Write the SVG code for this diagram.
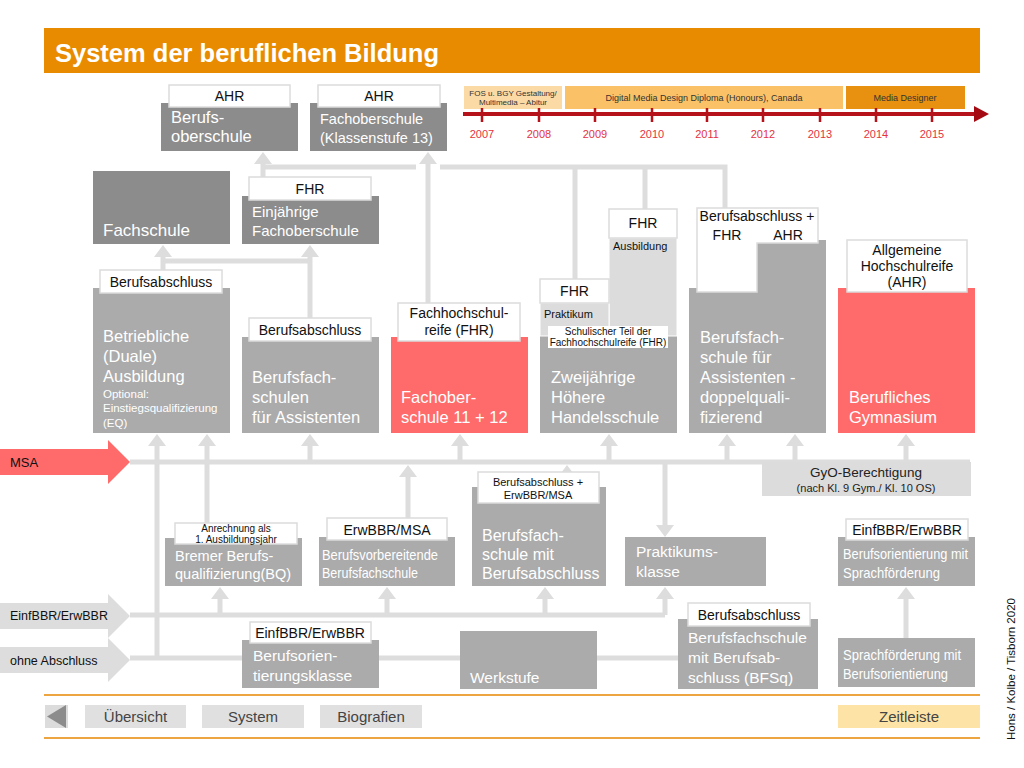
<svg xmlns="http://www.w3.org/2000/svg" width="1024" height="768" viewBox="0 0 1024 768">
<style>
text{font-family:"Liberation Sans",Arial,Helvetica,sans-serif}
.dk{fill:#8c8c8c}
.md{fill:#ababab}
.rd{fill:#ff6b6b}
.lt{fill:#dcdcdc}
.lbl{fill:#fff;stroke:#dcdcdc;stroke-width:1.5}
.w{fill:#fff}
.b{fill:#111}
.m{font-size:16.5px}
.s{font-size:14.5px}
.l{font-size:14px;text-anchor:middle}
.c{stroke:#dddddd;stroke-width:5;fill:none}
.ah{fill:#dddddd}
.yr{font-size:11px;fill:#e5323e;text-anchor:middle}
.tk{stroke:#b5121b;stroke-width:2.5}
.btn{fill:#e0e0e0}
.bt{font-size:15px;fill:#444;text-anchor:middle}
</style>

<!-- Header -->
<g id="header">
<rect x="44" y="28" width="936" height="45" fill="#e98b00"/>
<text x="55" y="62" font-size="25.5" font-weight="bold" fill="#fff">System der beruflichen Bildung</text>
</g>

<!-- Timeline -->
<g id="timeline">
<rect x="464" y="86" width="98" height="23" fill="#fcdaa5"/>
<text x="513" y="96" font-size="8" fill="#333" text-anchor="middle">FOS u. BGY Gestaltung/</text>
<text x="513" y="105" font-size="8" fill="#333" text-anchor="middle">Multimedia – Abitur</text>
<rect x="565" y="86" width="278" height="23" fill="#fbc166"/>
<text x="704" y="101" font-size="9" fill="#333" text-anchor="middle">Digital Media Design Diploma (Honours), Canada</text>
<rect x="846" y="86" width="119" height="23" fill="#e8900f"/>
<text x="905" y="101" font-size="9" fill="#333" text-anchor="middle">Media Designer</text>
<line x1="463" y1="114" x2="976" y2="114" stroke="#b5121b" stroke-width="4"/>
<polygon points="974,106 989,114 974,122" fill="#a50a12"/>
<line class="tk" x1="482" y1="108" x2="482" y2="122"/>
<line class="tk" x1="539" y1="108" x2="539" y2="122"/>
<line class="tk" x1="595" y1="108" x2="595" y2="122"/>
<line class="tk" x1="652" y1="108" x2="652" y2="122"/>
<line class="tk" x1="707" y1="108" x2="707" y2="122"/>
<line class="tk" x1="763" y1="108" x2="763" y2="122"/>
<line class="tk" x1="820" y1="108" x2="820" y2="122"/>
<line class="tk" x1="876" y1="108" x2="876" y2="122"/>
<line class="tk" x1="932" y1="108" x2="932" y2="122"/>
<text class="yr" x="482" y="138">2007</text>
<text class="yr" x="539" y="138">2008</text>
<text class="yr" x="595" y="138">2009</text>
<text class="yr" x="652" y="138">2010</text>
<text class="yr" x="707" y="138">2011</text>
<text class="yr" x="763" y="138">2012</text>
<text class="yr" x="820" y="138">2013</text>
<text class="yr" x="876" y="138">2014</text>
<text class="yr" x="932" y="138">2015</text>
</g>

<!-- Connectors -->
<g id="connectors">
<path class="c" d="M263,178V163 M263,167H416 M440,167H725V208 M575,167V279 M645,167V209 M428,303V163"/>
<path class="c" d="M163,270V257 M163,261H310 M310,318V257"/>
<path class="c" d="M130,462H970 M157,658V445 M207,523V445 M310,462V445 M460,462V445 M609,462V445 M727,462V445 M795,462V445 M906,462V445 M408,518V476 M665,462V526"/>
<path class="c" d="M130,615H665 M220,615V598 M387,615V598 M545,615V598 M665,615V598"/>
<path class="c" d="M130,658H678 M906,638V598"/>
<g class="ah">
<polygon points="254,164 272,164 263,152"/>
<polygon points="419,164 437,164 428,152"/>
<polygon points="154,257 172,257 163,245"/>
<polygon points="301,257 319,257 310,245"/>
<polygon points="148,446 166,446 157,434"/>
<polygon points="198,446 216,446 207,434"/>
<polygon points="301,446 319,446 310,434"/>
<polygon points="451,446 469,446 460,434"/>
<polygon points="600,446 618,446 609,434"/>
<polygon points="718,446 736,446 727,434"/>
<polygon points="786,446 804,446 795,434"/>
<polygon points="897,446 915,446 906,434"/>
<polygon points="399,477 417,477 408,465"/>
<polygon points="558,477 576,477 567,465"/>
<polygon points="656,525 674,525 665,537"/>
<polygon points="211,599 229,599 220,587"/>
<polygon points="378,599 396,599 387,587"/>
<polygon points="536,599 554,599 545,587"/>
<polygon points="656,599 674,599 665,587"/>
<polygon points="897,599 915,599 906,587"/>
</g>
</g>

<!-- Top row -->
<g id="berufsoberschule">
<rect class="dk" x="161" y="103" width="137" height="48"/>
<rect class="lbl" x="169" y="85" width="121" height="22"/>
<text class="l b" x="229.5" y="101">AHR</text>
<text class="w m" x="171" y="123">Berufs-</text>
<text class="w m" x="171" y="142">oberschule</text>
</g>
<g id="fachoberschule13">
<rect class="dk" x="310" y="103" width="137" height="48"/>
<rect class="lbl" x="318" y="85" width="122" height="22"/>
<text class="l b" x="379" y="101">AHR</text>
<text class="w s" x="320" y="124">Fachoberschule</text>
<text class="w s" x="320" y="143">(Klassenstufe 13)</text>
</g>

<!-- Row 2 -->
<g id="fachschule">
<rect class="dk" x="93" y="171" width="137" height="73"/>
<text class="w" x="103" y="236" font-size="17">Fachschule</text>
</g>
<g id="einjaehrige-fos">
<rect class="dk" x="242" y="196" width="137" height="48"/>
<rect class="lbl" x="249" y="177" width="122" height="23"/>
<text class="l b" x="310" y="194">FHR</text>
<text class="w" x="252" y="217" font-size="15">Einjährige</text>
<text class="w" x="252" y="236" font-size="15">Fachoberschule</text>
</g>

<!-- Row 3 -->
<g id="betriebliche-ausbildung">
<rect class="md" x="93" y="288" width="137" height="145"/>
<rect class="lbl" x="100" y="270" width="122" height="23"/>
<text class="l b" x="161" y="287">Berufsabschluss</text>
<text class="w m" x="103" y="342">Betriebliche</text>
<text class="w m" x="103" y="362">(Duale)</text>
<text class="w m" x="103" y="382">Ausbildung</text>
<text class="w" x="103" y="398" font-size="11.5">Optional:</text>
<text class="w" x="103" y="412" font-size="11.5">Einstiegsqualifizierung</text>
<text class="w" x="103" y="427" font-size="11.5">(EQ)</text>
</g>
<g id="bfs-assistenten">
<rect class="md" x="242" y="337" width="137" height="96"/>
<rect class="lbl" x="249" y="318" width="122" height="23"/>
<text class="l b" x="310" y="335">Berufsabschluss</text>
<text class="w m" x="252" y="383">Berufsfach-</text>
<text class="w m" x="252" y="403">schulen</text>
<text class="w m" x="252" y="423">für Assistenten</text>
</g>
<g id="fos-11-12">
<rect class="rd" x="391" y="337" width="137" height="96"/>
<rect class="lbl" x="398" y="303" width="122" height="38"/>
<text class="l b" x="459" y="318">Fachhochschul-</text>
<text class="l b" x="459" y="335">reife (FHR)</text>
<text class="w m" x="401" y="403">Fachober-</text>
<text class="w m" x="401" y="423">schule 11 + 12</text>
</g>
<g id="hoehere-handelsschule">
<rect class="md" x="540" y="336" width="137" height="97"/>
<rect class="lt" x="609" y="238" width="68" height="98" stroke="#fff" stroke-width="1"/>
<rect class="lbl" x="609" y="209" width="68" height="29"/>
<text class="l b" x="643" y="228">FHR</text>
<text class="b" x="613" y="250" font-size="11">Ausbildung</text>
<rect class="lt" x="540" y="303" width="69" height="33" stroke="#fff" stroke-width="1"/>
<rect class="lbl" x="540" y="279" width="69" height="24"/>
<text class="l b" x="574.5" y="296">FHR</text>
<text class="b" x="544" y="318" font-size="11">Praktikum</text>
<rect x="548" y="326" width="120" height="22" fill="#fff"/>
<text class="b" x="608" y="335" font-size="10" text-anchor="middle">Schulischer Teil der</text>
<text class="b" x="608" y="346" font-size="10" text-anchor="middle">Fachhochschulreife (FHR)</text>
<text class="w m" x="551" y="383">Zweijährige</text>
<text class="w m" x="551" y="403">Höhere</text>
<text class="w m" x="551" y="423">Handelsschule</text>
</g>
<g id="bfs-doppelqualifizierend">
<rect class="md" x="689" y="288" width="137" height="145"/>
<rect class="md" x="757" y="240" width="69" height="50"/>
<path class="lbl" d="M697,208H818V243H757V292H697Z"/>
<text class="l b" x="757" y="221" font-size="13">Berufsabschluss +</text>
<text class="l b" x="727" y="240">FHR</text>
<text class="l b" x="788" y="240">AHR</text>
<text class="w m" x="700" y="343">Berufsfach-</text>
<text class="w m" x="700" y="363">schule für</text>
<text class="w m" x="700" y="383">Assistenten -</text>
<text class="w m" x="700" y="403">doppelquali-</text>
<text class="w m" x="700" y="423">fizierend</text>
</g>
<g id="berufliches-gymnasium">
<rect class="rd" x="838" y="288" width="137" height="145"/>
<rect class="lbl" x="847" y="240" width="120" height="52"/>
<text class="l b" x="907" y="255">Allgemeine</text>
<text class="l b" x="907" y="271">Hochschulreife</text>
<text class="l b" x="907" y="287">(AHR)</text>
<text class="w m" x="849" y="403">Berufliches</text>
<text class="w m" x="849" y="423">Gymnasium</text>
</g>

<!-- Entry arrows -->
<g id="msa">
<polygon points="0,449 108,449 108,440 130,462 108,484 108,475 0,475" fill="#ff6b6b"/>
<text x="10" y="467" font-size="13" fill="#111">MSA</text>
</g>
<g id="einfbbr-erwbbr">
<polygon points="0,603 108,603 108,594 130,616 108,638 108,629 0,629" fill="#dddddd"/>
<text x="10" y="620" font-size="12.5" fill="#111">EinfBBR/ErwBBR</text>
</g>
<g id="ohne-abschluss">
<polygon points="0,647 108,647 108,638 130,660 108,682 108,673 0,673" fill="#dddddd"/>
<text x="10" y="665" font-size="12.5" fill="#111">ohne Abschluss</text>
</g>

<g id="gyo-berechtigung">
<rect class="lt" x="762" y="462" width="209" height="34"/>
<text x="866" y="477" font-size="13.5" fill="#222" text-anchor="middle">GyO-Berechtigung</text>
<text x="866" y="492" font-size="11" fill="#222" text-anchor="middle">(nach Kl. 9 Gym./  Kl. 10 OS)</text>
</g>

<!-- Lower row -->
<g id="bremer-bq">
<rect class="md" x="165" y="538" width="137" height="48"/>
<rect class="lbl" x="175" y="523" width="122" height="21"/>
<text class="b" x="236" y="532" font-size="10" text-anchor="middle">Anrechnung als</text>
<text class="b" x="236" y="543" font-size="10" text-anchor="middle">1. Ausbildungsjahr</text>
<text class="w s" x="175" y="561">Bremer Berufs-</text>
<text class="w s" x="175" y="579">qualifizierung(BQ)</text>
</g>
<g id="berufsvorbereitende-bfs">
<rect class="md" x="319" y="537" width="136" height="49"/>
<rect class="lbl" x="327" y="518" width="120" height="22"/>
<text class="l b" x="387" y="535">ErwBBR/MSA</text>
<text class="w" x="322" y="560" font-size="15" textLength="116" lengthAdjust="spacingAndGlyphs">Berufsvorbereitende</text>
<text class="w" x="322" y="578" font-size="15" textLength="96" lengthAdjust="spacingAndGlyphs">Berufsfachschule</text>
</g>
<g id="bfs-mit-berufsabschluss">
<rect class="md" x="472" y="487" width="134" height="99"/>
<rect class="lbl" x="478" y="472" width="121" height="31"/>
<text class="b" x="538" y="486" font-size="11" text-anchor="middle">Berufsabschluss +</text>
<text class="b" x="538" y="499" font-size="11" text-anchor="middle">ErwBBR/MSA</text>
<text class="w" x="482" y="541" font-size="16">Berufsfach-</text>
<text class="w" x="482" y="560" font-size="16">schule mit</text>
<text class="w" x="482" y="579" font-size="16">Berufsabschluss</text>
</g>
<g id="praktikumsklasse">
<rect class="md" x="625" y="537" width="141" height="49"/>
<text class="w" x="636" y="557" font-size="15.5">Praktikums-</text>
<text class="w" x="636" y="577" font-size="15.5">klasse</text>
</g>
<g id="berufsorientierung-sprachfoerderung">
<rect class="md" x="838" y="537" width="137" height="49"/>
<rect class="lbl" x="846" y="519" width="122" height="21"/>
<text class="l b" x="907" y="535">EinfBBR/ErwBBR</text>
<text class="w" x="843" y="559" font-size="15" textLength="125" lengthAdjust="spacingAndGlyphs">Berufsorientierung mit</text>
<text class="w" x="843" y="578" font-size="15" textLength="97" lengthAdjust="spacingAndGlyphs">Sprachförderung</text>
</g>

<!-- Bottom row -->
<g id="berufsorientierungsklasse">
<rect class="md" x="242" y="640" width="137" height="48"/>
<rect class="lbl" x="250" y="622" width="121" height="21"/>
<text class="l b" x="310" y="638">EinfBBR/ErwBBR</text>
<text class="w" x="253" y="661" font-size="15.5">Berufsorien-</text>
<text class="w" x="253" y="681" font-size="15.5">tierungsklasse</text>
</g>
<g id="werkstufe">
<rect class="md" x="460" y="631" width="137" height="58"/>
<text class="w" x="470" y="683" font-size="15.5">Werkstufe</text>
</g>
<g id="bfsq">
<rect class="md" x="678" y="619" width="140" height="70"/>
<rect class="lbl" x="688" y="603" width="122" height="23"/>
<text class="l b" x="749" y="620">Berufsabschluss</text>
<text class="w" x="688" y="643" font-size="15.5">Berufsfachschule</text>
<text class="w" x="688" y="663" font-size="15.5">mit Berufsab-</text>
<text class="w" x="688" y="683" font-size="15.5">schluss (BFSq)</text>
</g>
<g id="sprachfoerderung-berufsorientierung">
<rect class="md" x="838" y="638" width="137" height="49"/>
<text class="w" x="843" y="660" font-size="15" textLength="118" lengthAdjust="spacingAndGlyphs">Sprachförderung mit</text>
<text class="w" x="843" y="679" font-size="15" textLength="105" lengthAdjust="spacingAndGlyphs">Berufsorientierung</text>
</g>

<!-- Navigation -->
<g id="navigation">
<line x1="44" y1="695" x2="980" y2="695" stroke="#eca540" stroke-width="2"/>
<line x1="44" y1="738" x2="980" y2="738" stroke="#eca540" stroke-width="2"/>
<rect x="45" y="705" width="23" height="23" fill="#dcdcdc"/>
<polygon points="66,705 66,728 47,716.5" fill="#8c8c8c"/>
<rect class="btn" x="85" y="705" width="101" height="23"/>
<text class="bt" x="135.5" y="722">Übersicht</text>
<rect class="btn" x="202" y="705" width="102" height="23"/>
<text class="bt" x="253" y="722">System</text>
<rect class="btn" x="320" y="705" width="102" height="23"/>
<text class="bt" x="371" y="722">Biografien</text>
<rect x="838" y="705" width="142" height="23" fill="#fde4a6"/>
<text class="bt" x="909" y="722">Zeitleiste</text>
</g>

<text x="1015" y="740" font-size="11.5" fill="#111" transform="rotate(-90 1015 740)">Hons / Kolbe / Tisborn 2020</text>
</svg>
